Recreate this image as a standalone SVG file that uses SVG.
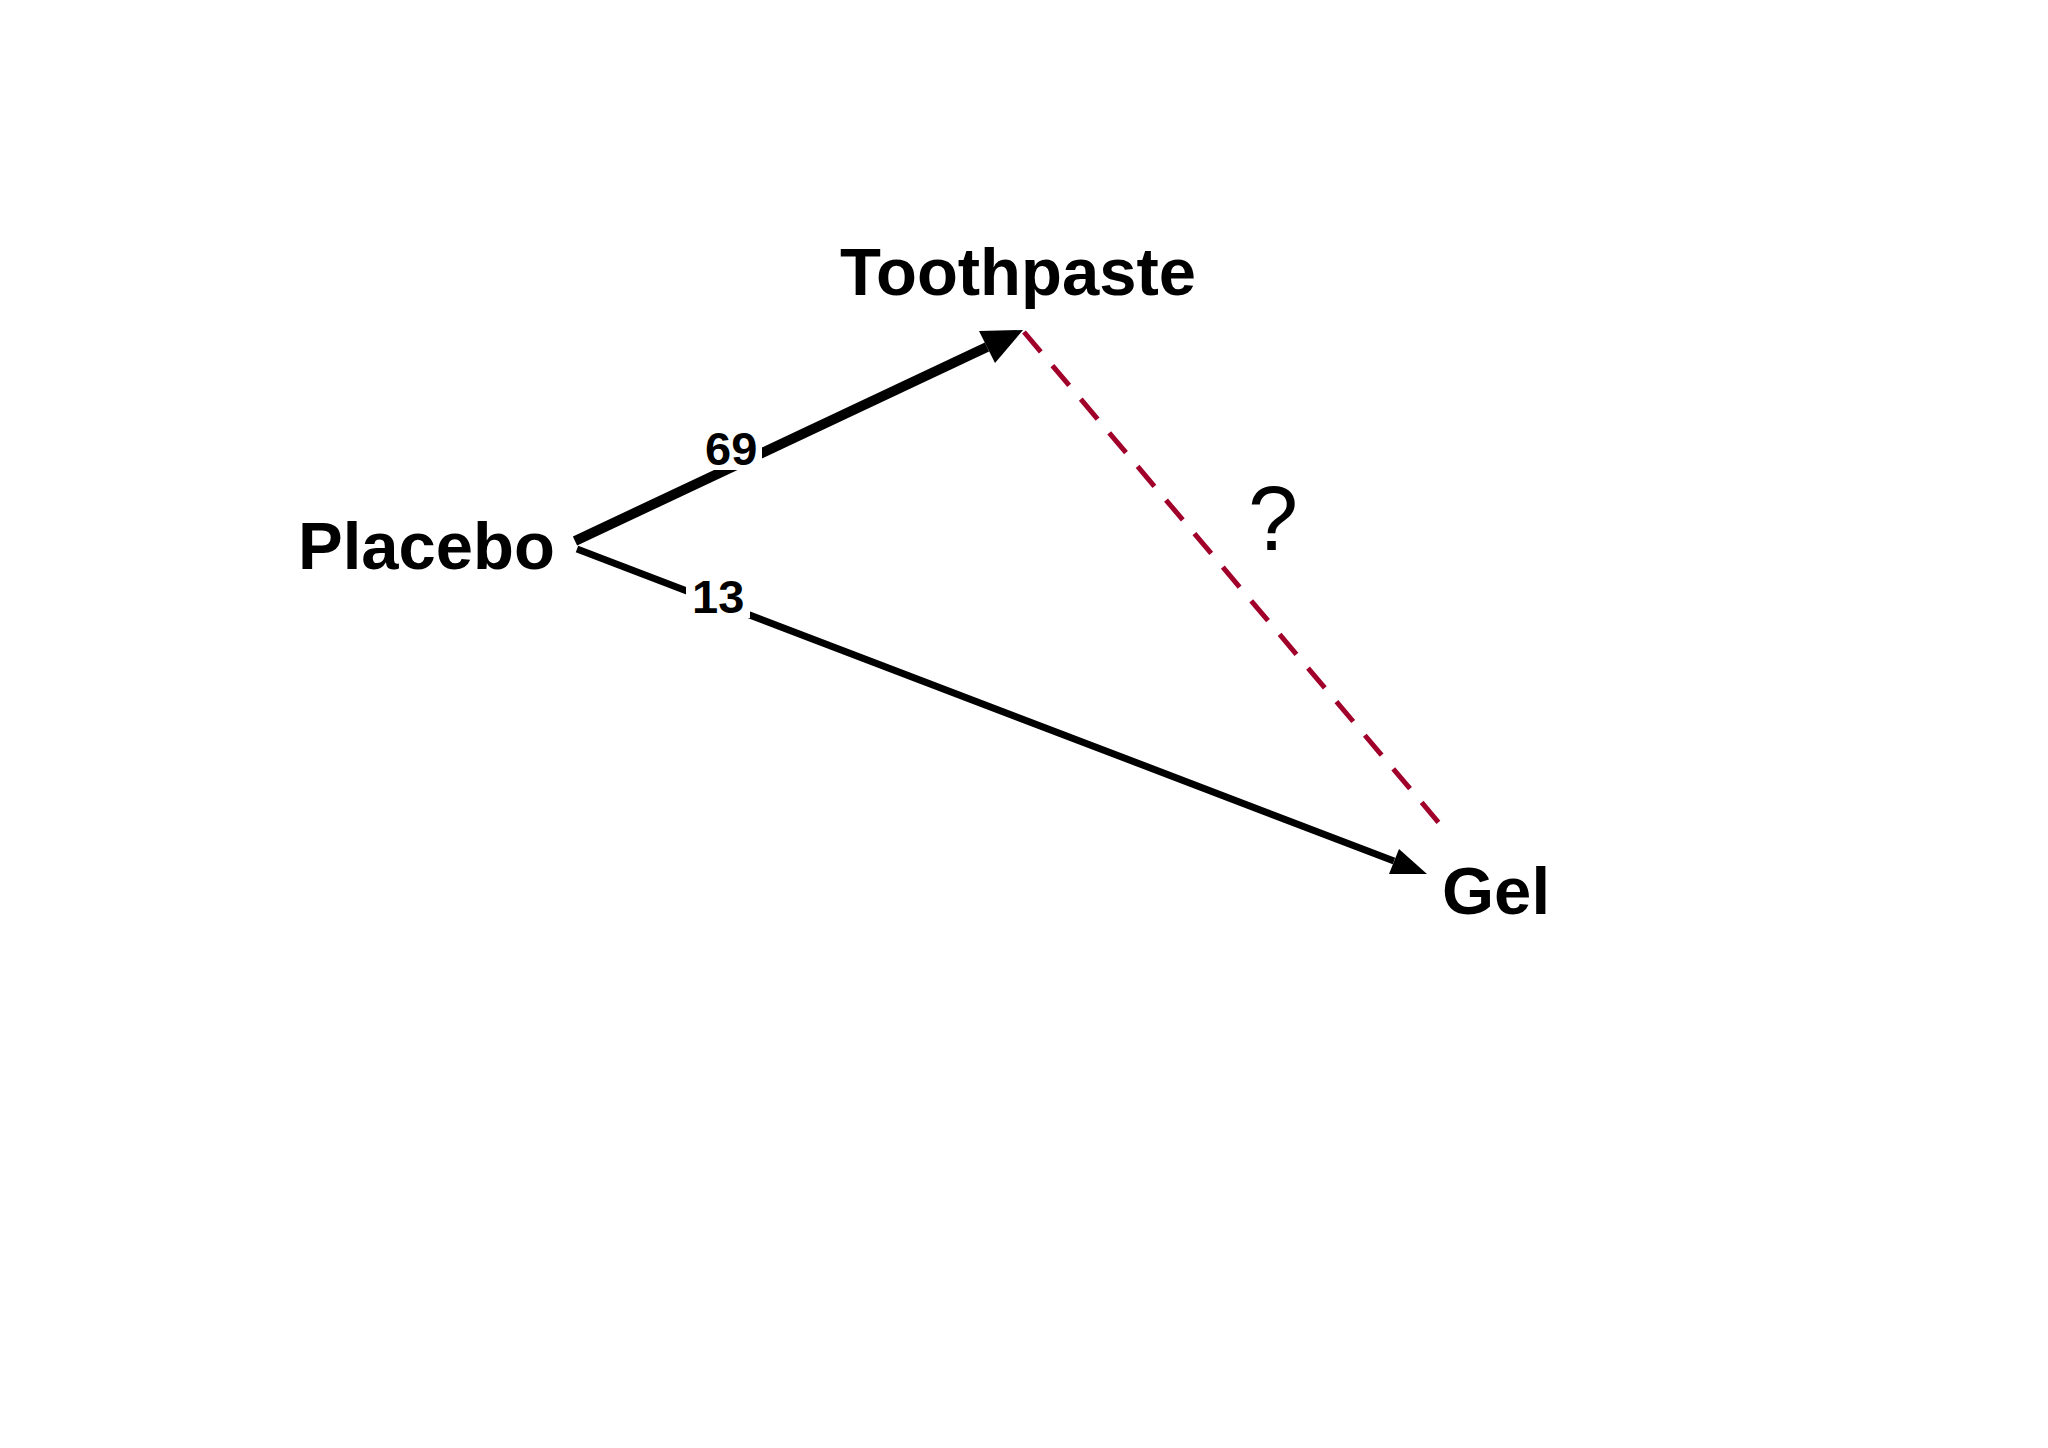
<svg xmlns="http://www.w3.org/2000/svg" width="2048" height="1448" viewBox="0 0 2048 1448">
<style>
.n{font-family:"Liberation Sans",Arial,sans-serif;font-weight:bold;fill:#000}
.lb{font-family:"Liberation Sans",Arial,sans-serif;font-weight:bold;font-size:47px;fill:#000}
</style>
<rect width="2048" height="1448" fill="#fff"/>
<g id="connectors">
<line x1="1024" y1="332" x2="1439" y2="823" stroke="#a0002a" stroke-width="5" stroke-dasharray="26,18"/>
<line x1="575" y1="541" x2="987" y2="347" stroke="#000" stroke-width="10"/>
<polygon points="1023,330 995,363 979,331" fill="#000"/>
<line x1="577" y1="549" x2="1394" y2="861" stroke="#000" stroke-width="7"/>
<polygon points="1427,874 1389,874 1399,849" fill="#000"/>
<rect x="700" y="428" width="62" height="42" fill="#fff"/>
<text class="lb" x="705" y="465">69</text>
<rect x="686" y="576" width="64" height="42" fill="#fff"/>
<text class="lb" x="692" y="613">13</text>
<text x="1248" y="550" font-family="Liberation Sans,Arial,sans-serif" font-size="90" fill="#000">?</text>
</g>
<g id="toothpaste"><text class="n" x="840" y="295" font-size="67">Toothpaste</text></g>
<g id="placebo"><text class="n" x="298" y="569" font-size="67">Placebo</text></g>
<g id="gel"><text class="n" x="1442" y="914" font-size="67">Gel</text></g>
</svg>
